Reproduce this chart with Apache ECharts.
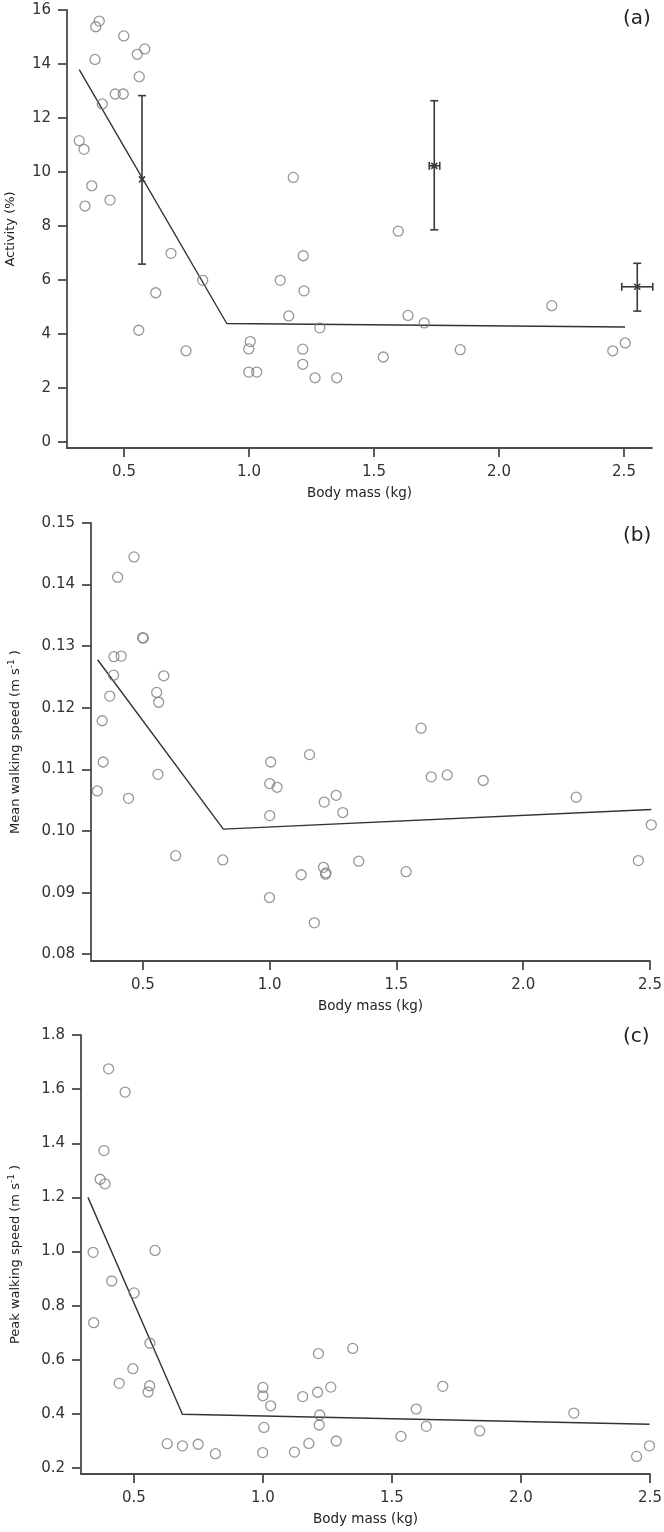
<!DOCTYPE html>
<html><head><meta charset="utf-8">
<script src="https://cdn.jsdelivr.net/npm/echarts@6/dist/echarts.min.js"></script>
<style>html,body{margin:0;padding:0;background:#fff}#c{width:664px;height:1532px}</style>
</head><body><div id="c"></div>
<script>
// ---- Panel (a): activity ----
const massA = [0.321,0.340,0.371,0.344,0.384,0.387,0.401,0.413,0.444,0.465,0.497,0.499,0.553,0.583,0.561,1.177,0.688,0.815,0.627,0.559,0.748,1.005,0.999,0.999,1.031,1.125,1.217,1.220,1.159,1.283,1.215,1.215,1.264,1.351,1.597,1.636,1.701,1.537,1.845,2.211,2.455,2.505];
const activity = [11.16,10.84,9.49,8.74,14.17,15.38,15.59,12.52,8.96,12.89,12.89,15.04,14.36,14.56,13.53,9.80,6.99,5.99,5.53,4.14,3.38,3.72,3.45,2.59,2.59,5.99,6.90,5.60,4.67,4.23,3.44,2.88,2.38,2.38,7.81,4.69,4.41,3.15,3.42,5.05,3.38,3.67];
const fitAMass = [0.321, 0.911, 2.504];
const fitAAct = [13.79, 4.39, 4.26];
const errMass = [0.572, 1.741, 2.553];
const errMassLow = [0.572, 1.721, 2.491];
const errMassHigh = [0.572, 1.763, 2.615];
const errAct = [9.73, 10.23, 5.75];
const errActLow = [6.59, 7.86, 4.85];
const errActHigh = [12.83, 12.64, 6.62];
const ticksA_y = [0,2,4,6,8,10,12,14,16];

// ---- Panel (b): mean walking speed ----
const massB = [0.4645,0.400,0.499,0.501,0.3855,0.414,0.384,0.582,0.369,0.554,0.562,0.339,0.343,0.320,0.559,0.443,0.629,0.815,1.004,1.157,1.000,1.029,1.000,1.215,1.262,1.288,1.124,1.212,1.220,1.222,0.999,1.176,1.597,1.637,1.700,1.842,2.209,2.505,2.454,1.351,1.538];
const meanSpeed = [0.1445,0.1412,0.1314,0.1313,0.1283,0.1284,0.1253,0.1252,0.1219,0.1225,0.1209,0.1179,0.1112,0.1065,0.1092,0.1053,0.0960,0.0953,0.1112,0.1124,0.1077,0.1071,0.1025,0.1047,0.1058,0.1030,0.0929,0.0941,0.0930,0.0932,0.0892,0.0851,0.1167,0.1088,0.1091,0.1082,0.1055,0.1010,0.0952,0.0951,0.0934];
const fitBMass = [0.321, 0.817, 2.505];
const fitBSpeed = [0.1278, 0.1003, 0.1035];
const ticksB_y = [0.08,0.09,0.10,0.11,0.12,0.13,0.14,0.15];

// ---- Panel (c): peak walking speed ----
const massC = [0.402,0.466,0.384,0.369,0.388,0.342,0.582,0.414,0.501,0.344,0.562,0.496,0.443,0.561,0.555,0.629,0.688,0.749,0.816,1.0,1.0,1.03,1.004,0.999,1.215,1.154,1.212,1.263,1.220,1.218,1.178,1.122,1.284,1.348,1.697,1.594,1.633,1.535,1.840,2.205,2.448,2.498];
const peakSpeed = [1.675,1.589,1.373,1.267,1.250,0.997,1.004,0.891,0.847,0.737,0.661,0.567,0.513,0.504,0.481,0.290,0.282,0.288,0.253,0.498,0.467,0.430,0.350,0.257,0.623,0.464,0.480,0.499,0.396,0.359,0.291,0.259,0.300,0.642,0.502,0.418,0.354,0.317,0.337,0.403,0.243,0.282];
const fitCMass = [0.322, 0.688, 2.498];
const fitCSpeed = [1.20, 0.399, 0.362];
const ticksC_y = [0.2,0.4,0.6,0.8,1.0,1.2,1.4,1.6,1.8];

const ticksX = [0.5,1.0,1.5,2.0,2.5];

const F = 'DejaVu Sans';
const AX = '#4a4a4a';
const zip = (a,b) => a.map((v,i)=>[v,b[i]]);

function xAxis(gi, min, max){
  return {type:'value', gridIndex:gi, min:min, max:max,
    name:'Body mass (kg)', nameLocation:'middle', nameGap:38,
    nameTextStyle:{fontFamily:F, fontSize:13.5, color:'#222'},
    axisLine:{show:true, onZero:false, lineStyle:{color:AX, width:1.8}},
    axisTick:{show:true, inside:false, length:9, customValues:ticksX, lineStyle:{color:AX, width:1.8}},
    axisLabel:{customValues:ticksX, margin:17, fontFamily:F, fontSize:15, color:'#333', formatter:v=>v.toFixed(1)},
    splitLine:{show:false}};
}
function yAxis(gi, min, max, ticks, name, gap, dec){
  return {type:'value', gridIndex:gi, min:min, max:max,
    name:name, nameLocation:'middle', nameGap:gap,
    nameTextStyle:{fontFamily:F, fontSize:13, color:'#222',
      rich:{sup:{fontFamily:F, fontSize:9, color:'#222', verticalAlign:'top', padding:[0,0,8,0]}}},
    axisLine:{show:true, onZero:false, lineStyle:{color:AX, width:1.8}},
    axisTick:{show:true, inside:false, length:9, customValues:ticks, lineStyle:{color:AX, width:1.8}},
    axisLabel:{customValues:ticks, margin:16, fontFamily:F, fontSize:15, color:'#333', formatter:v=>v.toFixed(dec)},
    splitLine:{show:false}};
}
function scatter(i, data){
  return {type:'scatter', xAxisIndex:i, yAxisIndex:i, data:data, symbol:'circle', symbolSize:10, clip:false,
    itemStyle:{color:'rgba(255,255,255,0)', borderColor:'#7d7d7d', borderWidth:1.3}, z:3};
}
function fit(i, data){
  return {type:'line', xAxisIndex:i, yAxisIndex:i, data:data, symbol:'none', clip:false,
    lineStyle:{color:'#333', width:1.4}, z:2};
}
function renderErr(params, api){
  const x = api.value(0), y = api.value(1);
  const c = api.coord([x,y]);
  const lo = api.coord([x, api.value(2)]), hi = api.coord([x, api.value(3)]);
  const xl = api.coord([api.value(4), y]), xh = api.coord([api.value(5), y]);
  const st = {stroke:'#3a3a3a', lineWidth:1.6};
  const cap = 4, s = 3;
  const L = (x1,y1,x2,y2)=>({type:'line', shape:{x1:x1,y1:y1,x2:x2,y2:y2}, style:st});
  const ch = [L(c[0],hi[1],c[0],lo[1]), L(c[0]-cap,hi[1],c[0]+cap,hi[1]), L(c[0]-cap,lo[1],c[0]+cap,lo[1])];
  if (xh[0]-xl[0] > 1) {
    ch.push(L(xl[0],c[1],xh[0],c[1]), L(xl[0],c[1]-cap,xl[0],c[1]+cap), L(xh[0],c[1]-cap,xh[0],c[1]+cap));
  }
  ch.push(L(c[0]-s,c[1]-s,c[0]+s,c[1]+s), L(c[0]-s,c[1]+s,c[0]+s,c[1]-s));
  return {type:'group', children:ch};
}
const errData = errMass.map((m,i)=>[m, errAct[i], errActLow[i], errActHigh[i], errMassLow[i], errMassHigh[i]]);

const chart = echarts.init(document.getElementById('c'), null, {renderer:'canvas'});
const titleStyle = {fontFamily:F, fontSize:20, fontWeight:'normal', color:'#222'};
chart.setOption({
  animation:false,
  backgroundColor:'#fff',
  title:[
    {text:'(a)', left:623, top:9, padding:0, textStyle:titleStyle},
    {text:'(b)', left:623, top:526, padding:0, textStyle:titleStyle},
    {text:'(c)', left:623, top:1027, padding:0, textStyle:titleStyle}
  ],
  grid:[
    {left:67, top:10, width:585, height:438, outerBoundsMode:'none'},
    {left:91, top:523, width:559, height:438, outerBoundsMode:'none'},
    {left:81, top:1035, width:569, height:439, outerBoundsMode:'none'}
  ],
  xAxis:[ xAxis(0, 0.272, 2.612), xAxis(1, 0.295, 2.5), xAxis(2, 0.295, 2.5) ],
  yAxis:[
    yAxis(0, -0.22, 16, ticksA_y, 'Activity (%)', 50, 0),
    yAxis(1, 0.0789, 0.15, ticksB_y, 'Mean walking speed (m s{sup|-1} )', 67, 2),
    yAxis(2, 0.178, 1.8, ticksC_y, 'Peak walking speed (m s{sup|-1} )', 57, 1)
  ],
  series:[
    fit(0, zip(fitAMass, fitAAct)),
    scatter(0, zip(massA, activity)),
    {type:'custom', xAxisIndex:0, yAxisIndex:0, data:errData, renderItem:renderErr,
      encode:{x:0, y:1}, clip:false, z:4},
    fit(1, zip(fitBMass, fitBSpeed)),
    scatter(1, zip(massB, meanSpeed)),
    fit(2, zip(fitCMass, fitCSpeed)),
    scatter(2, zip(massC, peakSpeed))
  ]
});
</script></body></html>
